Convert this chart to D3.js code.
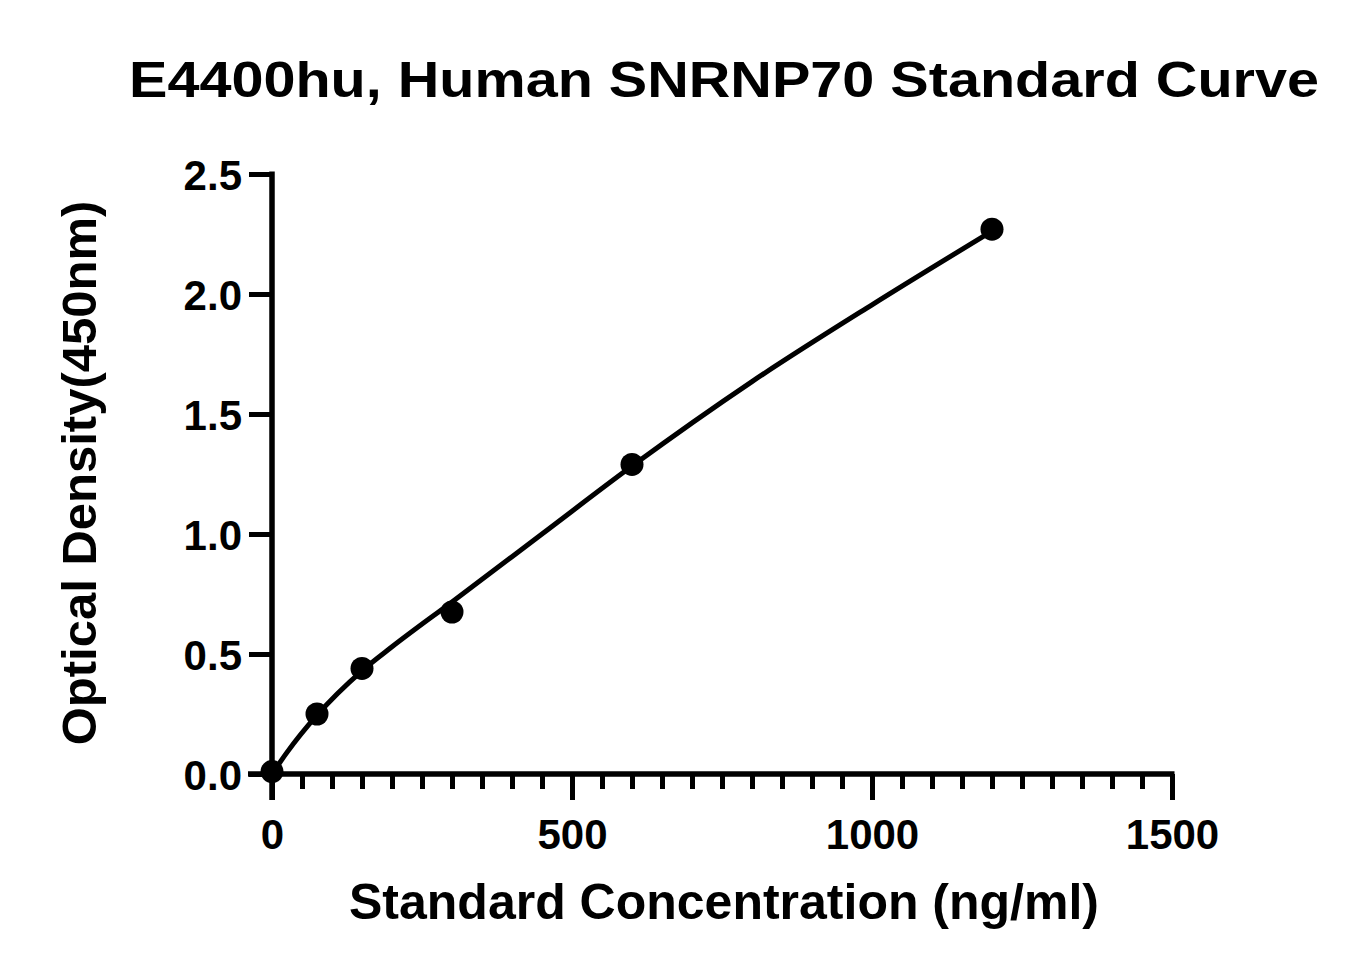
<!DOCTYPE html>
<html>
<head>
<meta charset="utf-8">
<script src="https://cdn.jsdelivr.net/npm/d3@7"></script>
<style>
  body { margin: 0; background: #fff; }
  text { font-family: "Liberation Sans", Arial, sans-serif; font-weight: bold; fill: #000; }
</style>
</head>
<body>
<div id="chart"></div>
<script>
// Standard points
const concentrations = [0, 75, 150, 300, 600, 1200];
const densities = [0.01, 0.25, 0.44, 0.675, 1.29, 2.27];

// Fitted curve
const curveConc = [0, 25, 75, 150, 200, 300, 450, 600, 800, 1000, 1200];
const curveOD = [0.0, 0.09, 0.245, 0.43, 0.53, 0.717, 1.0, 1.283, 1.635, 1.955, 2.262];

const xTicks = [0, 500, 1000, 1500];
const xMinorTicks = d3.range(0, 1501, 50);
const yTicks = [0.0, 0.5, 1.0, 1.5, 2.0, 2.5];

const width = 1365, height = 975;
const margin = {left: 272, top: 174, right: 193, bottom: 201};
const plotW = width - margin.left - margin.right;
const plotH = height - margin.top - margin.bottom;

const svg = d3.select("#chart")
              .append("svg")
              .attr("width", width)
              .attr("height", height);

const g = svg.append("g")
             .attr("transform", "translate(" + margin.left + "," + margin.top + ")");

const xScale = d3.scaleLinear().domain([0, 1500]).range([0, plotW]);
const yScale = d3.scaleLinear().domain([0, 2.5]).range([plotH, 0]);

// X axis: minor ticks every 50, then major ticks with labels
const xMinor = g.append("g").attr("transform", "translate(0," + plotH + ")");
xMinor.call(d3.axisBottom(xScale).tickValues(xMinorTicks).tickSize(15).tickFormat(""));
xMinor.select(".domain").remove();

const xAxis = g.append("g").attr("transform", "translate(0," + plotH + ")");
xAxis.call(d3.axisBottom(xScale).tickValues(xTicks).tickSize(26).tickFormat(d3.format("d")));
xAxis.select(".domain").attr("d", "M-24,0H" + (plotW + 2.5));
xAxis.selectAll("text").attr("y", 75).attr("dy", 0).style("font-size", "42px");

// Y axis
const yAxis = g.append("g");
yAxis.call(d3.axisLeft(yScale).tickValues(yTicks).tickSize(23).tickPadding(7)
                              .tickFormat(d3.format(".1f")));
yAxis.select(".domain").attr("d", "M0," + (plotH + 26) + "V-2.5");
yAxis.selectAll("text").style("font-size", "42px").attr("dy", "0.36em");

g.selectAll(".domain").attr("stroke", "#000").attr("stroke-width", 5.5);
g.selectAll(".tick line").attr("stroke", "#000").attr("stroke-width", 5);

// Fitted curve
const curveData = curveConc.map((c, i) => ({x: c, y: curveOD[i]}));
g.append("path")
 .datum(curveData)
 .attr("d", d3.line()
              .x(d => xScale(d.x))
              .y(d => yScale(d.y))
              .curve(d3.curveMonotoneX))
 .attr("fill", "none")
 .attr("stroke", "#000")
 .attr("stroke-width", 5);

// Data points
g.selectAll(".pt")
 .data(concentrations.map((c, i) => ({x: c, y: densities[i]})))
 .enter()
 .append("circle")
 .attr("class", "pt")
 .attr("cx", d => xScale(d.x))
 .attr("cy", d => yScale(d.y))
 .attr("r", 11.5)
 .attr("fill", "#000");

// Title and axis labels
svg.append("text")
   .attr("x", 724).attr("y", 97)
   .attr("text-anchor", "middle")
   .attr("textLength", 1190)
   .attr("lengthAdjust", "spacingAndGlyphs")
   .style("font-size", "50px")
   .text("E4400hu, Human SNRNP70 Standard Curve");

svg.append("text")
   .attr("x", 724).attr("y", 919)
   .attr("text-anchor", "middle")
   .style("font-size", "50px")
   .text("Standard Concentration (ng/ml)");

svg.append("text")
   .attr("transform", "translate(96,473) rotate(-90)")
   .attr("text-anchor", "middle")
   .style("font-size", "49px")
   .text("Optical Density(450nm)");
</script>
</body>
</html>
